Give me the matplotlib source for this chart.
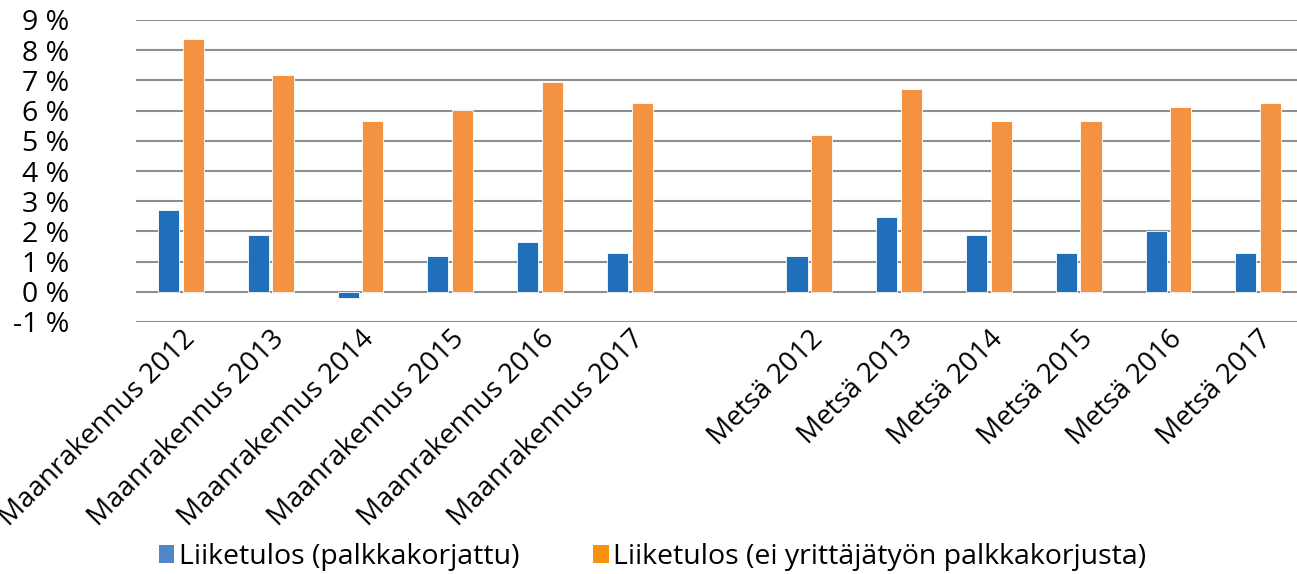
import matplotlib
matplotlib.use("Agg")
import matplotlib.pyplot as plt
from matplotlib.patches import Patch
import numpy as np

categories = ["Maanrakennus 2012", "Maanrakennus 2013", "Maanrakennus 2014",
              "Maanrakennus 2015", "Maanrakennus 2016", "Maanrakennus 2017",
              "",
              "Metsä 2012", "Metsä 2013", "Metsä 2014", "Metsä 2015",
              "Metsä 2016", "Metsä 2017"]
palkkakorjattu = [2.71, 1.88, -0.22, 1.17, 1.65, 1.29, np.nan,
                  1.17, 2.47, 1.88, 1.29, 2.00, 1.29]
ei_korjusta = [8.36, 7.19, 5.66, 6.01, 6.95, 6.24, np.nan,
               5.18, 6.71, 5.65, 5.65, 6.12, 6.24]
y_ticks = list(range(-1, 10))
y_labels = [f"{v} %" for v in y_ticks]
series_names = ["Liiketulos (palkkakorjattu)",
                "Liiketulos (ei yrittäjätyön palkkakorjusta)"]

plt.rcParams['font.family'] = ['Open Sans', 'DejaVu Sans']

fig = plt.figure(figsize=(12.97, 5.74), dpi=100)
ax = fig.add_axes([136/1297, 1 - 322/574, 1 - 136/1297, (322 - 20)/574])

x = np.arange(len(categories))
w = 0.235
off = 0.137
blue = "#1f6fba"
orange = "#f39240"
ax.bar(x - off, palkkakorjattu, width=w, color=blue, edgecolor="white", linewidth=0.6)
ax.bar(x + off, ei_korjusta, width=w, color=orange, edgecolor="white", linewidth=0.6)

ax.set_ylim(-1, 9)
ax.set_xlim(-0.5, (1297 - 180.6) / 89.8)
ax.set_yticks(y_ticks)
ax.set_yticklabels(y_labels, fontsize=20.5)
ax.yaxis.grid(True, color="#8e8e8e", linewidth=1.5)
ax.set_axisbelow(True)
for s in ax.spines.values():
    s.set_visible(False)
ax.tick_params(axis="y", length=0, pad=48)
ax.tick_params(axis="x", length=0, pad=2)

tick_pos = [i for i, c in enumerate(categories) if c]
ax.set_xticks(tick_pos)
ax.set_xticklabels([categories[i] for i in tick_pos], rotation=45,
                   ha="right", va="top", rotation_mode="anchor", fontsize=20)

handles = [Patch(facecolor="#4f86c8", edgecolor="none"),
           Patch(facecolor="#f7930f", edgecolor="none")]
fig.legend(handles, series_names, loc="center", ncol=2,
           bbox_to_anchor=(0.503, 1 - 557/574), frameon=False, fontsize=20.5,
           handlelength=0.55, handleheight=0.55, handletextpad=0.15,
           columnspacing=2.6, borderaxespad=0)

fig.savefig("out.png", dpi=100)
